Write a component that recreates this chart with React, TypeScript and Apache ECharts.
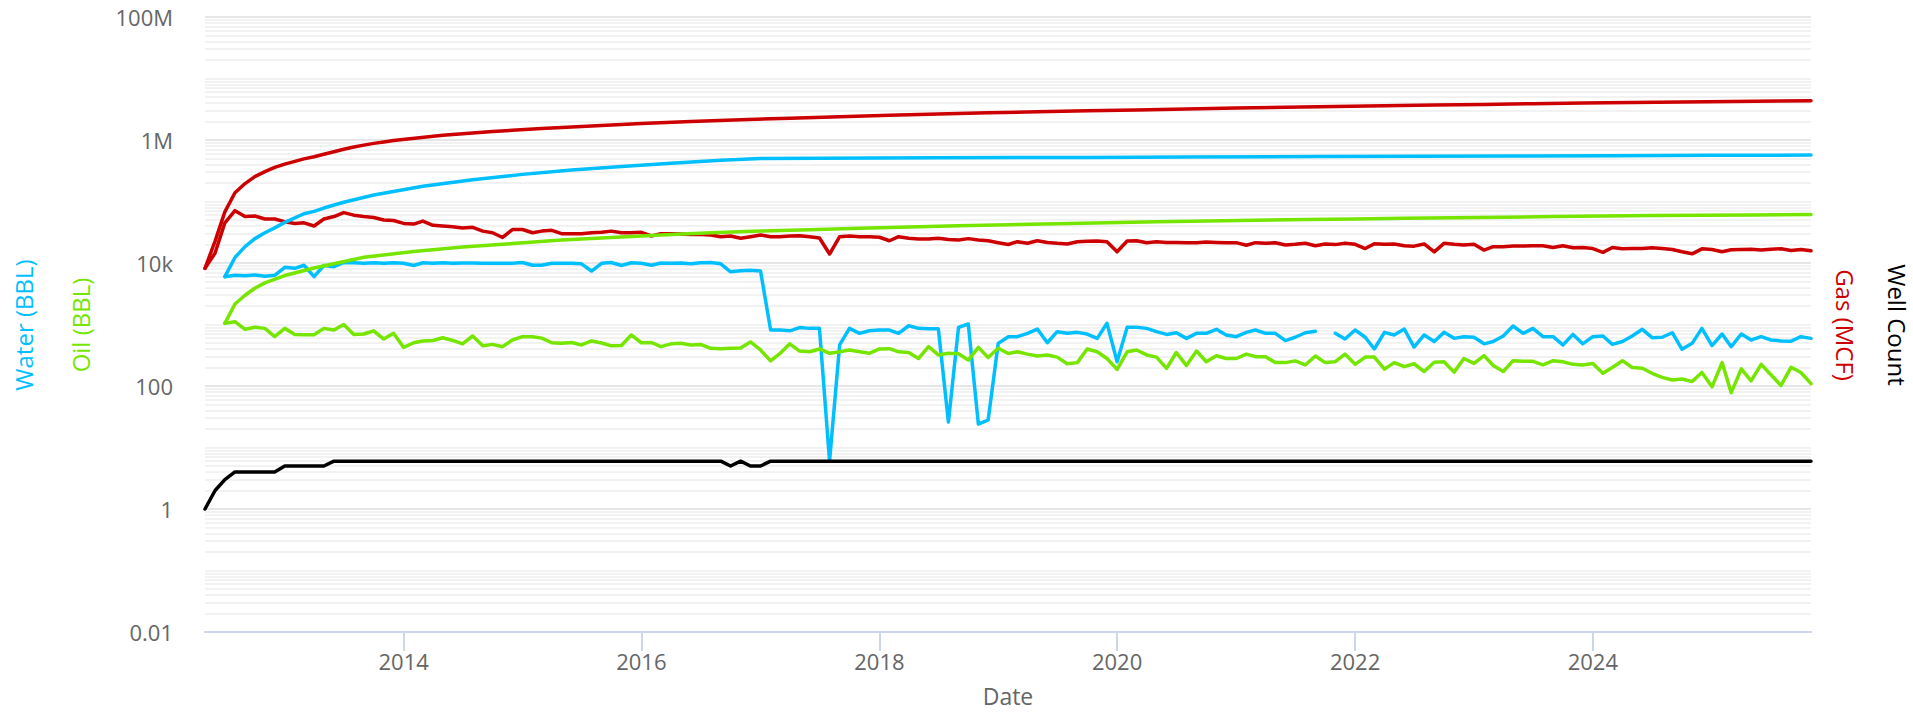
import React, { useEffect, useRef } from "react";
import * as echarts from "echarts";

// Monthly series start in May 2012 (month index 0) and end in Nov 2025 (index 162)
const START_YEAR = 2012;
const START_MONTH = 4; // 0-based month (May)

// Monthly production (null = no value)
const waterMonthly: (number | null)[] = [
  null, null, 6000, 6300, 6200, 6400, 6100, 6300, 8500, 8200,
  9200, 6000, 9100, 8700, 10200, 10100, 9900, 10100, 9900, 10100,
  9900, 9100, 10100, 9900, 10100, 9900, 10000, 10000, 9900, 9900,
  9900, 9900, 10200, 9200, 9200, 9900, 9900, 9900, 9700, 7400,
  9900, 10200, 9100, 10100, 9900, 9200, 10000, 9900, 10000, 9700,
  10100, 10200, 9700, 7200, 7500, 7600, 7400, 813, 813, 790,
  890, 865, 865, 6, 465, 865, 718, 790, 813, 813,
  718, 955, 865, 855, 855, 26, 900, 1020, 24, 28,
  494, 634, 634, 718, 844, 505, 765, 718, 745, 700,
  595, 1045, 248, 900, 900, 865, 765, 690, 735, 595,
  718, 718, 835, 676, 634, 745, 813, 718, 718, 548,
  620, 735, 775, null, 718, 580, 813, 620, 400, 745,
  676, 844, 430, 676, 530, 745, 595, 634, 620, 485,
  530, 650, 944, 718, 865, 634, 634, 465, 690, 485,
  634, 650, 475, 530, 650, 835, 610, 620, 735, 395,
  494, 865, 455, 700, 436, 700, 560, 634, 560, 540,
  535, 634, 595,
];

const oilMonthly: (number | null)[] = [
  null, null, 1045, 1110, 835, 900, 865, 634, 865, 690,
  680, 680, 865, 813, 1000, 690, 700, 790, 580, 718,
  425, 505, 540, 550, 610, 550, 485, 650, 450, 475,
  436, 560, 634, 634, 600, 505, 494, 510, 465, 540,
  500, 450, 455, 676, 505, 510, 436, 485, 494, 465,
  475, 410, 405, 410, 415, 520, 385, 256, 335, 485,
  370, 360, 400, 340, 360, 385, 360, 340, 400, 405,
  360, 350, 280, 436, 320, 340, 335, 264, 425, 290,
  410, 338, 360, 330, 308, 320, 295, 230, 240, 400,
  360, 280, 186, 360, 385, 320, 295, 194, 350, 215,
  370, 248, 310, 280, 280, 330, 300, 300, 240, 240,
  256, 220, 308, 240, 248, 330, 225, 295, 295, 188,
  240, 206, 230, 172, 243, 248, 168, 280, 233, 312,
  215, 172, 258, 252, 252, 220, 258, 248, 225, 220,
  233, 161, 200, 258, 200, 194, 161, 138, 125, 130,
  118, 166, 97, 240, 78, 190, 121, 225, 152, 102,
  202, 166, 109,
];

const gasMonthly: (number | null)[] = [
  8200, 14500, 45000, 71000, 57000, 58000, 52000, 52000, 47000, 44000,
  45000, 40000, 52000, 57000, 66000, 60000, 57000, 55000, 50000, 49000,
  44000, 43000, 48000, 41000, 40000, 39000, 37000, 38000, 33000, 31000,
  26000, 35000, 35000, 31000, 33000, 34000, 30000, 30000, 30000, 31000,
  31500, 33000, 31000, 31000, 31500, 27500, 30000, 30000, 29700, 29000,
  29000, 28500, 26800, 27500, 25200, 26800, 28500, 26800, 26800, 27500,
  27800, 26800, 25500, 14000, 26800, 27500, 26800, 26800, 26200, 23000,
  26800, 25200, 24600, 24600, 25200, 24200, 23700, 24900, 23700, 23000,
  21400, 20000, 22200, 20900, 23000, 21600, 20900, 20400, 22200, 22500,
  22800, 22200, 15200, 22800, 23000, 21400, 22200, 21600, 21600, 21400,
  21400, 21900, 21600, 21400, 21400, 19400, 21400, 20900, 21400, 19600,
  20100, 20900, 19100, 20400, 19900, 20900, 20100, 17200, 20600, 20100,
  20400, 19100, 18800, 20400, 15200, 20900, 20100, 19600, 20100, 16200,
  18400, 18400, 18900, 18900, 19100, 19100, 17900, 19100, 17700, 17900,
  17200, 14900, 17900, 17000, 17200, 17200, 17700, 17200, 16600, 15200,
  14100, 17000, 16600, 15200, 16400, 16600, 16800, 16200, 16800, 17000,
  16000, 16600, 15800,
];

const wellCount: number[] = [
  1, 2, 3, 4, 4, 4, 4, 4, 5, 5,
  5, 5, 5, 6, 6, 6, 6, 6, 6, 6,
  6, 6, 6, 6, 6, 6, 6, 6, 6, 6,
  6, 6, 6, 6, 6, 6, 6, 6, 6, 6,
  6, 6, 6, 6, 6, 6, 6, 6, 6, 6,
  6, 6, 6, 5, 6, 5, 5, 6, 6, 6,
  6, 6, 6, 6, 6, 6, 6, 6, 6, 6,
  6, 6, 6, 6, 6, 6, 6, 6, 6, 6,
  6, 6, 6, 6, 6, 6, 6, 6, 6, 6,
  6, 6, 6, 6, 6, 6, 6, 6, 6, 6,
  6, 6, 6, 6, 6, 6, 6, 6, 6, 6,
  6, 6, 6, 6, 6, 6, 6, 6, 6, 6,
  6, 6, 6, 6, 6, 6, 6, 6, 6, 6,
  6, 6, 6, 6, 6, 6, 6, 6, 6, 6,
  6, 6, 6, 6, 6, 6, 6, 6, 6, 6,
  6, 6, 6, 6, 6, 6, 6, 6, 6, 6,
  6, 6, 6,
];

// Cumulative curves at these month indices
const gasCumIdx = [
  0, 1, 2, 3, 4, 5, 6, 7, 8, 9, 10, 11, 12, 13, 14, 15, 16, 17, 18, 19,
  24, 29, 34, 39, 44, 49, 54, 59, 64, 69, 74, 79, 84, 89, 94, 99, 104,
  109, 114, 119, 124, 129, 134, 139, 144, 149, 154, 159, 162,
];
const gasCum = [
  8200, 22700, 67700, 138700, 195700, 253700, 305700, 357700, 404700, 448700,
  493700, 533700, 585700, 642700, 708700, 768700, 825700, 880700, 930700, 979700,
  1195700, 1373700, 1533700, 1688700, 1846700, 1992900, 2129900, 2266300, 2387200,
  2517500, 2643900, 2763400, 2870900, 2978500, 3084500, 3192700, 3300400,
  3403100, 3503500, 3602400, 3696300, 3793200, 3886900, 3978600, 4062800,
  4146700, 4226000, 4309400, 4357800,
];

const waterCumIdx = [
  2, 3, 4, 5, 6, 7, 8, 9, 10, 11, 12, 14, 17, 22, 27, 32, 37, 42, 47, 52,
  56, 62, 74, 89, 99, 112, 122, 132, 142, 152, 162,
];
const waterCum = [
  6000, 12300, 18500, 24900, 31000, 37300, 45800, 54000, 63200, 69200,
  78300, 97200, 127300, 176400, 226300, 276100, 324200, 370500, 419600, 469300,
  499000, 504000, 512800, 521500, 528800, 538100, 543900, 550300, 556600,
  562800, 568700,
];

const oilCumIdx = [
  2, 3, 4, 5, 6, 8, 11, 16, 21, 26, 31, 36, 41, 46, 51, 56, 61, 66, 71, 76,
  81, 86, 91, 96, 101, 106, 111, 116, 121, 126, 131, 136, 141, 146, 151,
  156, 162,
];
const oilCum = [
  1045, 2155, 2990, 3890, 4755, 6254, 8304, 12372, 15390, 18125,
  20696, 23563, 26028, 28610, 30939, 33074, 34880, 36725, 38580, 40291,
  42018, 43631, 45141, 46687, 48064, 49564, 50820, 52171, 53395, 54456,
  55668, 56908, 57995, 59008, 59685, 60411, 61367,
];

// Axis ticks
const yTickValues = [0.01, 1, 100, 1e4, 1e6, 1e8];
const yTickLabels = ["0.01", "1", "100", "10k", "1M", "100M"];
const xTickYears = [2014, 2016, 2018, 2020, 2022, 2024];
const LAST_INDEX = 162;

const COLORS = {
  water: "#00bfff",
  oil: "#76e500",
  gas: "#cc0000",
  wells: "#000000",
};

const FONT = '"Open Sans", "Noto Sans", sans-serif';

const monthTime = (i: number) => Date.UTC(START_YEAR, START_MONTH + i, 1);

const monthlyData = (arr: (number | null)[]) =>
  arr.map((v, i) => [monthTime(i), v == null ? "-" : v]);

const cumData = (idx: number[], vals: number[]) =>
  idx.map((m, k) => [monthTime(m), vals[k]]);

// gridline positions of the log axis (1..9 x 10^n), between the labelled ticks
const minorGrid: number[] = [];
for (let e = -2; e < 8; e++) {
  for (let m = 1; m <= 9; m++) {
    const v = Number((m * Math.pow(10, e)).toPrecision(6));
    if (m === 1 && e % 2 === 0) continue;
    minorGrid.push(v);
  }
}

const xTickTimes = xTickYears.map((y) => Date.UTC(y, 0, 1));

export default function App() {
  const ref = useRef<HTMLDivElement>(null);

  useEffect(() => {
    if (!ref.current) return;
    const chart = echarts.init(ref.current, undefined, { renderer: "svg" });

    const lineSeries = (name: string, data: any[], color: string, z = 10) => ({
      name,
      type: "line",
      data,
      z,
      showSymbol: false,
      symbol: "none",
      connectNulls: false,
      silent: true,
      lineStyle: { color, width: 3.5, cap: "round", join: "round" },
      itemStyle: { color },
    });

    const titleText = (
      text: string,
      x: number,
      y: number,
      rotation: number,
      fill: string,
      size = 24
    ) => ({
      type: "text",
      x,
      y,
      rotation,
      silent: true,
      style: {
        text,
        fill,
        font: `${size}px ${FONT}`,
        textAlign: "center",
        textVerticalAlign: "middle",
        verticalAlign: "middle",
      },
    });

    const option: any = {
      animation: false,
      grid: { left: 205, right: 102, top: 17, bottom: 81, containLabel: false },
      xAxis: {
        type: "value",
        min: monthTime(0),
        max: monthTime(LAST_INDEX),
        axisLine: { show: true, lineStyle: { color: "#ccd6eb", width: 2 } },
        axisTick: {
          show: true,
          length: 19,
          lineStyle: { color: "#ccd6eb", width: 2 },
          customValues: xTickTimes,
        },
        axisLabel: {
          show: true,
          color: "#666666",
          fontFamily: FONT,
          fontSize: 22,
          margin: 18,
          customValues: xTickTimes,
          formatter: (v: number) => String(new Date(v).getUTCFullYear()),
        },
        splitLine: { show: false },
      },
      yAxis: {
        type: "log",
        logBase: 10,
        min: 0.01,
        max: 1e8,
        interval: 2,
        axisLine: { show: false },
        axisTick: { show: false },
        axisLabel: {
          color: "#666666",
          fontFamily: FONT,
          fontSize: 22,
          margin: 32,
          formatter: (v: number) => {
            let best = 0;
            let bd = Infinity;
            yTickValues.forEach((t, k) => {
              const d = Math.abs(Math.log10(t) - Math.log10(v));
              if (d < bd) {
                bd = d;
                best = k;
              }
            });
            return yTickLabels[best];
          },
        },
        splitLine: { show: true, lineStyle: { color: "#e6e6e6", width: 2 } },
      },
      series: [
        {
          name: "grid",
          type: "line",
          data: [[monthTime(0), 1]],
          showSymbol: false,
          symbol: "none",
          lineStyle: { width: 0, opacity: 0 },
          silent: true,
          z: 1,
          markLine: {
            silent: true,
            symbol: ["none", "none"],
            label: { show: false },
            emphasis: { disabled: true },
            lineStyle: { color: "#f2f2f2", width: 2, type: "solid" },
            data: minorGrid.map((v) => ({ yAxis: v })),
          },
        },
        lineSeries("Water (BBL)", monthlyData(waterMonthly), COLORS.water),
        lineSeries("Oil (BBL)", monthlyData(oilMonthly), COLORS.oil),
        lineSeries("Gas (MCF)", monthlyData(gasMonthly), COLORS.gas),
        lineSeries("Well Count", monthlyData(wellCount), COLORS.wells),
        lineSeries("Cum Water (BBL)", cumData(waterCumIdx, waterCum), COLORS.water),
        lineSeries("Cum Oil (BBL)", cumData(oilCumIdx, oilCum), COLORS.oil),
        lineSeries("Cum Gas (MCF)", cumData(gasCumIdx, gasCum), COLORS.gas),
      ],
      graphic: [
        titleText("Water (BBL)", 23, 325, Math.PI / 2, COLORS.water),
        titleText("Oil (BBL)", 80, 325, Math.PI / 2, COLORS.oil),
        titleText("Gas (MCF)", 1845, 325, -Math.PI / 2, COLORS.gas),
        titleText("Well Count", 1897, 325, -Math.PI / 2, COLORS.wells),
        titleText("Date", 1008, 696, 0, "#666666", 23),
      ],
    };

    chart.setOption(option);
    return () => chart.dispose();
  }, []);

  return (
    <div
      ref={ref}
      style={{
        position: "absolute",
        left: 0,
        top: 0,
        width: "1913px",
        height: "713px",
        background: "#ffffff",
      }}
    />
  );
}
